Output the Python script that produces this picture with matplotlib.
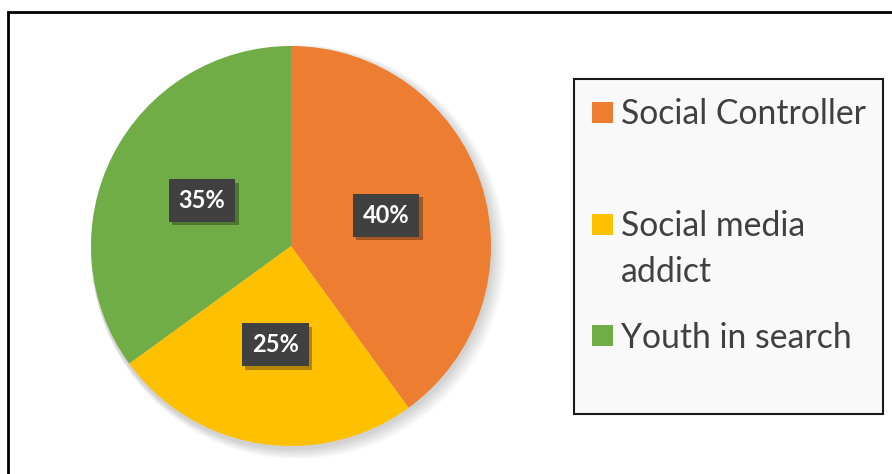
import matplotlib
matplotlib.use("Agg")
import matplotlib.pyplot as plt
from matplotlib.patches import Rectangle, Circle
import matplotlib.patheffects as pe

categories = ["Social Controller", "Social media\naddict", "Youth in search"]
values = [40, 25, 35]
colors = ["#ED7D31", "#FFC000", "#70AD47"]

W, H = 892, 474
fig = plt.figure(figsize=(W / 100, H / 100), dpi=100)
fig.patch.set_facecolor("white")

def fx(px):
    return px / W

def fy(py):
    return 1 - py / H

# outer chart frame (extends past right/bottom edges)
fig.patches.append(Rectangle((fx(7.5), fy(520)), fx(900), (520 - 12.5) / H,
                             transform=fig.transFigure, fill=False,
                             edgecolor="black", linewidth=2.0, zorder=0))

L = 1.08
ax = fig.add_axes([fx(291 - 200 * L), fy(246 + 200 * L), 400 * L / W, 400 * L / H])

# soft shadow
for k in range(1, 10):
    ax.add_patch(Circle((0.004 * k, -0.012 - 0.002 * k), 1.0 + 0.004 * k,
                        facecolor="black", alpha=0.018, edgecolor="none", zorder=0))

wedges, texts, autotexts = ax.pie(
    values, colors=colors, startangle=90, counterclock=False,
    autopct=lambda p: f"{p:.0f}%", pctdistance=0.5,
    wedgeprops=dict(linewidth=0, edgecolor="none"),
    textprops=dict(color="white", fontsize=17, fontweight="bold", family="Lato"),
    radius=1.0,
)
ax.set_xlim(-L, L)
ax.set_ylim(-L, L)
ax.set_aspect("equal")
ax.axis("off")
for w in wedges:
    w.set_zorder(2)
for t in autotexts:
    t.set_zorder(5)
    t.set_bbox(dict(boxstyle="square,pad=0.42", facecolor="#404040", edgecolor="none"))
    t.get_bbox_patch().set_path_effects([
        pe.SimplePatchShadow(offset=(2.5, -2.5), shadow_rgbFace="black", alpha=0.3),
        pe.Normal()])

# legend box
fig.patches.append(Rectangle((fx(573.5), fy(413.5)), (883 - 573.5) / W, (413.5 - 79) / H,
                             transform=fig.transFigure, facecolor="#F9F9F9",
                             edgecolor="#1a1a1a", linewidth=1.5, zorder=1))

square_centers = [112.5, 224.5, 335.5]
baselines = [124, 282, 348]
for cat, col, sc, bl in zip(categories, colors, square_centers, baselines):
    fig.patches.append(Rectangle((fx(592), fy(sc + 10.5)), 21 / W, 21 / H,
                                 transform=fig.transFigure, facecolor=col,
                                 edgecolor="none", zorder=2))
    fig.text(fx(621), fy(bl), cat, ha="left", va="baseline", fontsize=24.3,
             family="Lato", color="#404040", linespacing=1.53, zorder=3)

fig.savefig("out.png", dpi=100)
